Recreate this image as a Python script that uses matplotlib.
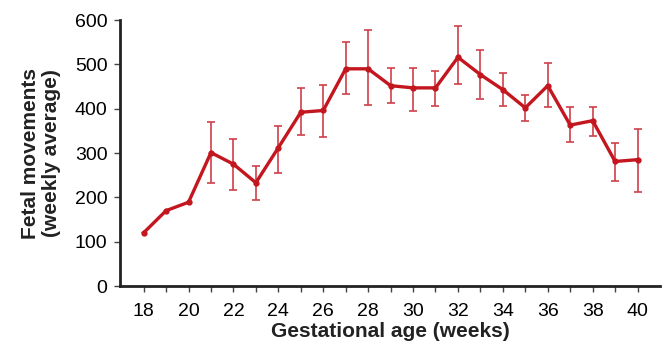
import matplotlib
matplotlib.use("Agg")
import matplotlib.pyplot as plt
import numpy as np

plt.rcParams['font.family'] = ['Liberation Sans', 'DejaVu Sans']

# 数据：孕周与每周平均胎动次数
weeks = [18, 19, 20, 21, 22, 23, 24, 25, 26, 27, 28, 29,
         30, 31, 32, 33, 34, 35, 36, 37, 38, 39, 40]
movements = [120, 170, 189, 301, 275, 233, 312, 392, 396, 490, 490, 452,
             447, 447, 516, 477, 443, 402, 452, 363, 373, 281, 285]
err_top = [None, None, None, 369, 332, 271, 361, 447, 453, 550, 577, 492,
           492, 486, 586, 532, 481, 430, 503, 403, 403, 322, 355]
err_bottom = [None, None, None, 232, 217, 195, 256, 340, 336, 434, 408, 413,
              394, 405, 456, 423, 405, 373, 404, 326, 338, 237, 212]
x_ticks = list(range(18, 41, 2))
y_ticks = [0, 100, 200, 300, 400, 500, 600]

red = '#c3161f'

fig = plt.figure(figsize=(6.65, 3.49), dpi=100)
ax = fig.add_axes([0.1805, 0.1805, 0.812, 0.762])

# 误差线（只画有误差的点）
idx = [i for i, t in enumerate(err_top) if t is not None]
xe = np.array([weeks[i] for i in idx])
ye = np.array([movements[i] for i in idx])
lo = ye - np.array([err_bottom[i] for i in idx])
hi = np.array([err_top[i] for i in idx]) - ye
ax.errorbar(xe, ye, yerr=[lo, hi], fmt='none', ecolor='#d0404a',
            elinewidth=1.2, capsize=3, capthick=1.2, zorder=2)

ax.plot(weeks, movements, '-o', color=red, linewidth=2.4,
        markersize=3.5, zorder=3)

ax.set_xlim(16.95, 41.0)
ax.set_ylim(0, 600)
ax.set_xticks(range(18, 41))
ax.set_xticklabels([str(w) if w in x_ticks else '' for w in range(18, 41)])
ax.set_yticks(y_ticks)

for s in ['top', 'right']:
    ax.spines[s].set_visible(False)
for s in ['left', 'bottom']:
    ax.spines[s].set_linewidth(2.0)
    ax.spines[s].set_color('#222222')

ax.tick_params(axis='both', labelsize=14, color='#444444', width=1.0,
               length=4, direction='out')
ax.tick_params(axis='x', pad=8)
ax.tick_params(axis='y', pad=5)

ax.set_xlabel('Gestational age (weeks)', fontsize=15, fontweight='bold',
              labelpad=2, color='#222222')
ax.set_ylabel('Fetal movements\n(weekly average)', fontsize=15,
              fontweight='bold', labelpad=10, linespacing=1.15, color='#222222')

plt.savefig('out.png', dpi=100)
